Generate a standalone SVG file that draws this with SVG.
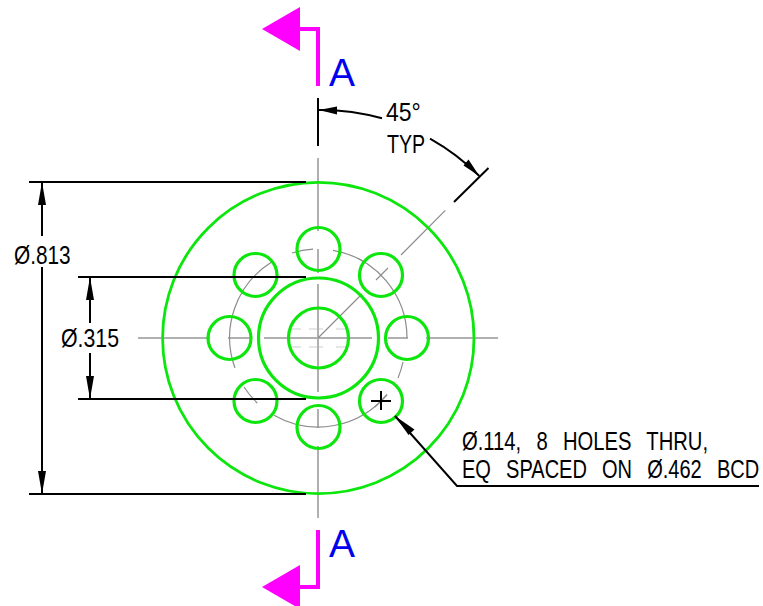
<svg xmlns="http://www.w3.org/2000/svg" width="763" height="606" viewBox="0 0 763 606">
<style>
.g{fill:none;stroke:#0ce60c;stroke-width:3.2}
.c{fill:none;stroke:#b0b0b0;stroke-width:2}
.f{fill:none;stroke:#8c8c8c;stroke-width:1.2}
.h{fill:none;stroke:#e6e6e6;stroke-width:2}
.k{fill:none;stroke:#000;stroke-width:2}
.a{fill:#000;stroke:none}
.m{fill:none;stroke:#ff00ff;stroke-width:4}
.t{font-family:"Liberation Sans",Arial,sans-serif;font-size:26px;fill:#000}
.w{word-spacing:12.500px}
.b{font-family:"Liberation Sans",Arial,sans-serif;font-size:39px;fill:#0000f0}
</style>
<rect width="763" height="606" fill="#fff"/>
<g id="centerlines">
<path class="h" d="M289 329H301M309 329H323M336 329H348M289 347H301M309 347H323M336 347H348"/>
<path class="c" d="M138 338H210M228 338H252M264 338H372M388 338H408M426 338H498"/>
<path class="c" d="M318 158V231M318 249V273M318 284V392M318 409V428M318 446V518"/>
<path class="f" d="M292 253A89 89 0 0 1 313 249.100M333 250.300A89 89 0 0 1 407 338M403 362A89 89 0 0 1 398 378M387 394.400A89 89 0 0 1 274 415.300M257.300 403A89 89 0 0 1 244 387M235 368A89 89 0 0 1 271.700 262"/>
<path class="f" d="M318 338L362 294M376 280L388 268M401 255L445.300 210.300M375 407L387 395"/>
</g>
<g id="part">
<circle class="g" cx="318.300" cy="338" r="155.700" style="stroke-width:2.800px"/>
<circle class="g" cx="318.500" cy="338" r="60"/>
<circle class="g" cx="318.500" cy="338" r="30"/>
<circle class="g" cx="318.500" cy="249" r="21.500"/>
<circle class="g" cx="381" cy="275" r="21.500"/>
<circle class="g" cx="407" cy="338" r="21.500"/>
<circle class="g" cx="381" cy="401" r="21.500"/>
<circle class="g" cx="318.500" cy="427" r="21.500"/>
<circle class="g" cx="255.500" cy="401" r="21.500"/>
<circle class="g" cx="229.500" cy="338" r="21.500"/>
<circle class="g" cx="255.500" cy="275" r="21.500"/>
</g>
<g id="connectors">
<path class="k" d="M29 182H306M29 494H306M78 277H306M78 399H306"/>
<path class="k" d="M42 182V236M42 267V494M90 277V323M90 353V399"/>
<path class="a" d="M42 182L46 205H38ZM42 494L46 471H38ZM90 277L94 300H86ZM90 399L94 376H86Z"/>
<path class="k" d="M318 98V146M454 202L488.500 168"/>
<path class="k" d="M318 110A228 228 0 0 1 382 118.300M430 138.700A228 228 0 0 1 479.300 176"/>
<path class="a" d="M319 110L337 106.500L337 114.500ZM479.300 176L463.500 165.500L468.500 159.500Z"/>
<path class="k" d="M371 401H391M381 391V410"/>
<path class="k" d="M395 416L457 486H759"/>
<path class="a" d="M395 416L414.500 429.500L408.500 435Z"/>
</g>
<g id="section-top">
<path class="m" d="M318 86V29H296"/>
<path d="M262 29L300 7V51Z" fill="#ff00ff"/>
<text class="b" x="329" y="86" textLength="26" lengthAdjust="spacingAndGlyphs">A</text>
</g>
<g id="section-bottom">
<path class="m" d="M318 530V587H296"/>
<path d="M262 587L300 565V609Z" fill="#ff00ff"/>
<text class="b" x="329" y="557" textLength="26" lengthAdjust="spacingAndGlyphs">A</text>
</g>
<g id="labels">
<text class="t" transform="translate(14 263.500) scale(.8 1)">Ø.813</text>
<text class="t" transform="translate(61 347) scale(.82 1)">Ø.315</text>
<text class="t" transform="translate(386 120.500) scale(.886 1)">45°</text>
<text class="t" transform="translate(387 153) scale(.754 1)">TYP</text>
<text class="t w" transform="translate(462 450) scale(.777 1)">Ø.114, 8 HOLES THRU,</text>
<text class="t w" transform="translate(462 478) scale(.77 1)">EQ SPACED ON Ø.462 BCD</text>
</g>
</svg>
